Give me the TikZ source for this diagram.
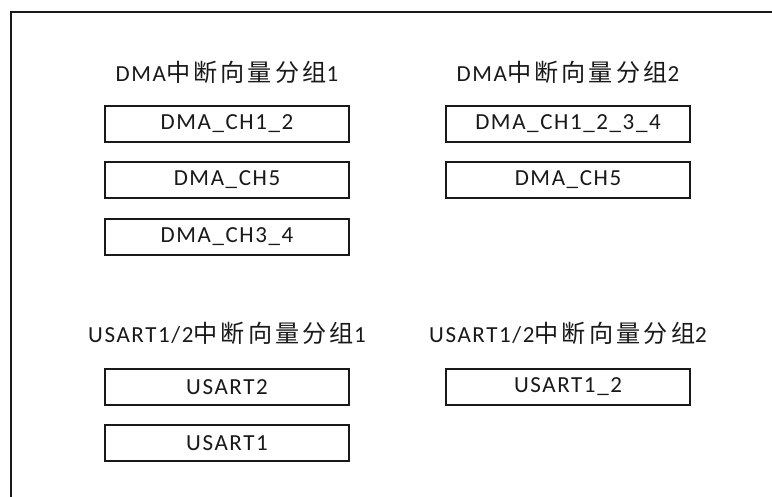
\documentclass[tikz,border=0pt]{standalone}
\usepackage{fontspec}
\setmainfont{Carlito}[LetterSpace=7]
\newfontfamily\cjk{Noto Sans CJK SC}[LetterSpace=13,Scale=1.05]
\usepackage{tikz}
\begin{document}
\begin{tikzpicture}[x=1pt,y=-1pt]
  \tikzset{
    grp/.style={font=\fontsize{23}{27}\selectfont, text=black!90, inner sep=0pt},
    chan/.style={draw=black!90, fill=white, line width=2.5pt, minimum width=244pt, minimum height=36pt, inner sep=0pt, font=\fontsize{23}{27}\selectfont, text=black!90},
    frame/.style={draw=black!90, line width=2pt}
  }

  % X positions of the two columns
  \def\xL{227}
  \def\xR{568}

  % outer frame (only top and left edges are visible)
  \clip (0,0) rectangle (772,496);
  \draw[frame] (10.5,11.5) rectangle (800,530);

  % DMA groups
  \node[grp] (dmaA) at (\xL,72) {DMA{\cjk 中断向量分组}1};
  \node[grp] (dmaB) at (\xR,72) {DMA{\cjk 中断向量分组}2};
  \node[chan] (ch12) at (\xL,124) {DMA\_CH1\_2};
  \node[chan] (ch5a) at (\xL,180) {DMA\_CH5};
  \node[chan] (ch34) at (\xL,237) {DMA\_CH3\_4};
  \node[chan] (ch1234) at (\xR,124) {DMA\_CH1\_2\_3\_4};
  \node[chan] (ch5b) at (\xR,180) {DMA\_CH5};

  % USART groups
  \node[grp] (usA) at (\xL,333) {USART1/2{\cjk 中断向量分组}1};
  \node[grp] (usB) at (\xR,333) {USART1/2{\cjk 中断向量分组}2};
  \node[chan] (us2) at (\xL,387) {USART2};
  \node[chan] (us1) at (\xL,443) {USART1};
  \node[chan] (us12) at (\xR,387) {USART1\_2};

\end{tikzpicture}
\end{document}
